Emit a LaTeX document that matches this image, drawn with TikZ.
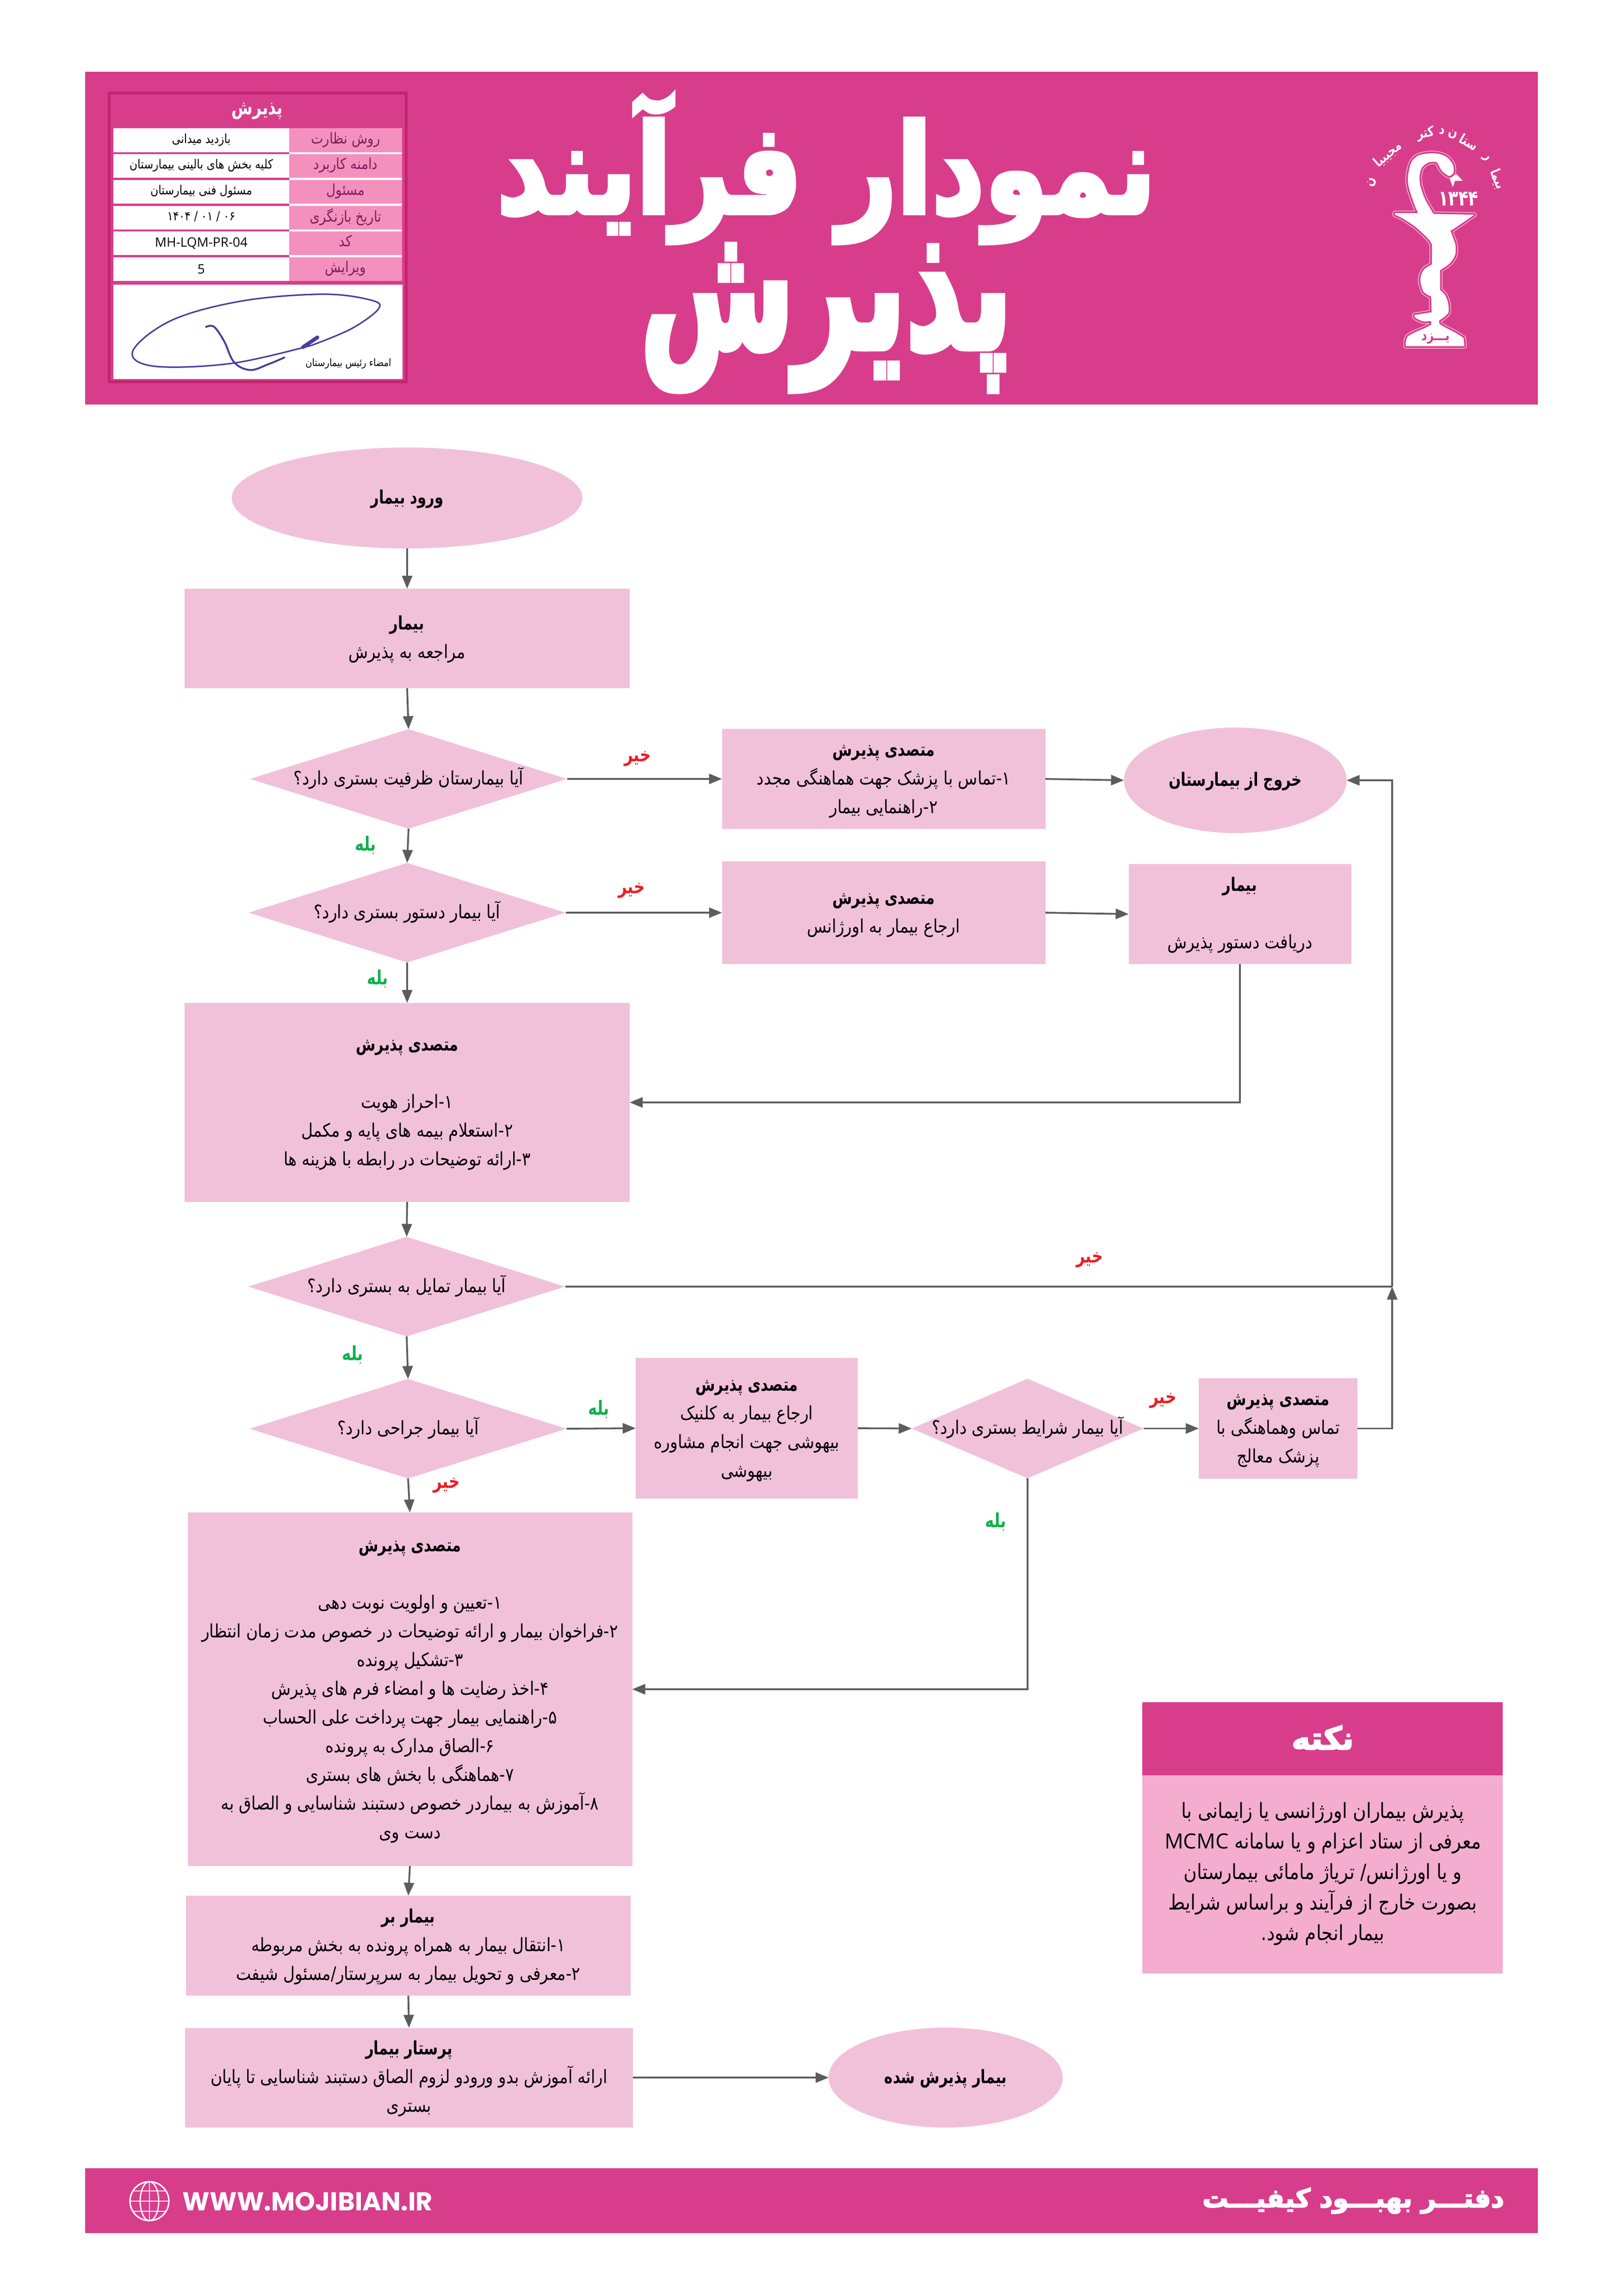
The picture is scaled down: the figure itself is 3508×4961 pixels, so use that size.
\documentclass[tikz,border=0pt]{standalone}
\usepackage{fontspec}
\usepackage{graphicx}
\usetikzlibrary{shapes.geometric,arrows.meta}
\TeXXeTstate=1
\newfontfamily\arabicfont[Script=Arabic,FakeStretch=0.865,BoldFeatures={FakeStretch=0.77}]{DejaVu Sans}
\newfontfamily\titlefa[Script=Arabic,BoldFeatures={FakeBold=4}]{DejaVu Sans}
\newfontfamily\latinfa{Open Sans}
\newfontfamily\webfa{Poppins}
\lineskiplimit=-100pt
\definecolor{bandc}{HTML}{D83D8C}
\definecolor{boxc}{HTML}{F1C1DA}
\definecolor{notec}{HTML}{F4ADCF}
\definecolor{cellc}{HTML}{F490BE}
\definecolor{celltxt}{HTML}{7B1F5C}
\definecolor{tborder}{HTML}{C2246F}
\definecolor{linec}{HTML}{5C5C5C}
\definecolor{noc}{HTML}{ED1C24}
\definecolor{yesc}{HTML}{0DB14B}
\definecolor{sigc}{HTML}{4B3B9E}
\newcommand{\fa}[1]{\strut\beginR #1\endR}
\newcommand{\fb}[1]{\strut\beginR\bfseries #1\endR}
\newcommand{\tfa}[1]{\beginR\bfseries #1\endR}
\newcommand{\qa}[1]{\makebox[0pt][c]{\strut\beginR #1\endR}}
\tikzset{
  bodyt/.style={font=\arabicfont\fontsize{10}{15.5}\selectfont,text=black,align=center,inner sep=0pt,outer sep=0pt},
  boxn/.style={bodyt,rectangle,fill=boxc,minimum width=#1},
  decn/.style={bodyt,diamond,fill=boxc,shape aspect=3.2,minimum width=685*.25pt,minimum height=215*.25pt},
  ovaln/.style={bodyt,ellipse,fill=boxc},
  conn/.style={draw=linec,line width=.95pt,-{Triangle[length=7pt,width=5.5pt]}},
  plainline/.style={draw=linec,line width=.95pt},
  nolab/.style={font=\arabicfont\fontsize{10.6}{12}\selectfont,text=noc,inner sep=0pt},
  yeslab/.style={font=\arabicfont\fontsize{10.6}{12}\selectfont,text=yesc,inner sep=0pt},
  band/.style={rectangle,fill=bandc,inner sep=0pt,outer sep=0pt},
  cellw/.style={rectangle,fill=white,inner sep=0pt,minimum width=95pt,minimum height=12.9pt,font=\arabicfont\fontsize{6.8}{8}\selectfont,text=black},
  cellp/.style={rectangle,fill=cellc,inner sep=0pt,minimum width=61pt,minimum height=12.9pt,font=\arabicfont\fontsize{8.1}{9}\selectfont,text=celltxt},
  whitet/.style={text=white,inner sep=0pt},
  sig/.style={draw=sigc,line width=.8pt,line cap=round},
  logot/.style={text=white,inner sep=0pt,font=\arabicfont\fontsize{7.5}{8}\selectfont}
}
\begin{document}
\begin{tikzpicture}[x=.25pt,y=-.25pt]
\useasboundingbox (0,0) rectangle (3508,4961);
\fill[white] (0,0) rectangle (3508,4961);
% header and footer bands
\node[band,minimum width=3140*.25pt,minimum height=719*.25pt] (hband) at (1754,514.5) {};
\node[band,minimum width=3140*.25pt,minimum height=140*.25pt] (fband) at (1754,4755) {};
% title
\node[whitet,font=\titlefa\fontsize{60}{70}\selectfont] (title1) at (1786,365) {\resizebox*{356pt}{80pt}{\tfa{نمودار فرآیند}}};
\node[whitet,font=\titlefa\fontsize{60}{70}\selectfont] (title2) at (1786,687) {\resizebox*{201pt}{78.5pt}{\tfa{پذیرش}}};
% table
\draw[tborder,fill=bandc,line width=1.4pt] (236,201) rectangle (878,825);
\fill[white] (625,277) rectangle (869,607);
\node[whitet,font=\arabicfont\fontsize{10.8}{12}\selectfont] (tabtitle) at (556,240) {\tfa{پذیرش}};
\node[cellw] (w1) at (435,303) {\fa{بازدید میدانی}};
\node[cellw] (w2) at (435,358.5) {\fa{کلیه بخش های بالینی بیمارستان}};
\node[cellw] (w3) at (435,414.5) {\fa{مسئول فنی بیمارستان}};
\node[cellw] (w4) at (435,470.5) {\fa{۰۶ / ۰۱ / ۱۴۰۴}};
\node[cellw,font=\latinfa\fontsize{7}{8}\selectfont] (w5) at (435,525.5) {MH-LQM-PR-04};
\node[cellw,font=\latinfa\fontsize{7}{8}\selectfont] (w6) at (435,581.5) {5};
\node[cellp] (p1) at (747,303) {\fa{روش نظارت}};
\node[cellp] (p2) at (747,358.5) {\fa{دامنه کاربرد}};
\node[cellp] (p3) at (747,414.5) {\fa{مسئول}};
\node[cellp] (p4) at (747,470.5) {\fa{تاریخ بازنگری}};
\node[cellp] (p5) at (747,525.5) {\fa{کد}};
\node[cellp] (p6) at (747,581.5) {\fa{ویرایش}};
\fill[white] (245,615) rectangle (870,819);
\draw[sig] plot[smooth,tension=.6] coordinates {(675,745.6) (760,710) (818.4,666.8) (800,648) (697,635.7) (523.6,650.2) (371.8,691.7) (287.2,758) (332.7,791.2) (501.9,785) (675.3,745.6)};
\draw[sig,line width=1pt] plot[smooth,tension=.6] coordinates {(445.5,706.2) (462.8,706.2) (484.5,737.3) (506.2,782.9) (540.9,799.5) (579.9,787) (614.6,772.5)};
\draw[sig,line width=2pt] (655,750) -- (686,729);
\node[text=black,inner sep=0pt,font=\arabicfont\fontsize{5.6}{6}\selectfont] (signame) at (753,787) {\fa{امضاء رئیس بیمارستان}};
% logo
\begin{scope}[shift={(2900,230)},x=.08333pt,y=-.08929pt]
\def\logopath{plot[smooth,tension=.5] coordinates {(495,645) (470,590) (435,490) (430,420) (450,340) (490,300) (550,285) (620,285) (680,305) (720,350) (725,400) (695,420) (650,390) (625,350) (610,335) (560,340) (520,370) (505,420) (510,480) (540,560) (595,650)} -- (860,655) -- (720,745) -- plot[smooth,tension=.5] coordinates {(705,750) (720,790) (738,840) (735,900) (700,950) (638,990)} -- (638,1110) -- plot[smooth,tension=.5] coordinates {(638,1110) (670,1140) (690,1190) (690,1250) (632,1295)} -- plot[smooth,tension=.5] coordinates {(632,1295) (640,1320) (730,1365) (790,1400)} -- (795,1450) -- (415,1450) -- plot[smooth,tension=.5] coordinates {(415,1450) (430,1390) (540,1340) (580,1320)} -- (580,1298) -- plot[smooth,tension=.5] coordinates {(580,1298) (530,1300) (480,1280) (470,1262)} -- (583,1245) -- (580,1150) -- plot[smooth,tension=.5] coordinates {(580,1150) (530,1120) (510,1050) (530,990) (585,955)} -- (585,835) -- plot[smooth,tension=.5] coordinates {(585,835) (560,800) (480,730) (400,680) (345,655)} -- (345,645) -- cycle}
\draw[white,line width=2.5pt,line join=round] \logopath;
\draw[bandc,line width=2pt,line join=round] \logopath;
\fill[white] \logopath;
\fill[white] (700,435) -- (745,410) -- (785,450) -- (735,450) -- (720,488) -- cycle;
\node[logot,font=\arabicfont\fontsize{11.5}{12}\selectfont] (year) at (757,560) {\tfa{۱۳۴۴}};
\node[logot,text=bandc,font=\arabicfont\fontsize{7.8}{9}\selectfont] (yazd) at (610,1405) {\tfa{یـــزد}};
\node[logot,rotate=-68] (a1) at (1010,440) {\tfa{بیما}};
\node[logot,rotate=-48] (a2) at (935,315) {\tfa{ر}};
\node[logot,rotate=-30] (a3) at (825,215) {\tfa{ستا}};
\node[logot,rotate=-12] (a4) at (720,170) {\tfa{ن}};
\node[logot,rotate=-3] (a5) at (650,150) {\tfa{د}};
\node[logot,rotate=8] (a6) at (545,165) {\tfa{کتر}};
\node[logot,rotate=40] (a7) at (300,290) {\tfa{مجیبیا}};
\node[logot,rotate=75] (a8) at (195,460) {\tfa{ن}};
\end{scope}
% flow nodes
\node[ovaln,minimum width=758*.25pt,minimum height=218*.25pt] (start) at (880,1076) {\fb{ورود بیمار}};
\node[boxn=962*.25pt,minimum height=215*.25pt] (b1) at (880,1379.5) {\fb{بیمار}\\\fa{مراجعه به پذیرش}};
\node[decn] (d1) at (883,1683) {\qa{آیا بیمارستان ظرفیت بستری دارد؟}};
\node[boxn=699*.25pt,minimum height=216*.25pt] (b2) at (1910,1683) {\fb{متصدی پذیرش}\\\fa{۱-تماس با پزشک جهت هماهنگی مجدد}\\\fa{۲-راهنمایی بیمار}};
\node[ovaln,minimum width=481*.25pt,minimum height=228*.25pt] (exit) at (2670,1686) {\fb{خروج از بیمارستان}};
\node[decn] (d2) at (880,1972) {\qa{آیا بیمار دستور بستری دارد؟}};
\node[boxn=699*.25pt,minimum height=222*.25pt] (b3) at (1910,1972) {\fb{متصدی پذیرش}\\\fa{ارجاع بیمار به اورژانس}};
\node[boxn=481*.25pt,minimum height=216*.25pt] (b4) at (2680,1975) {\fb{بیمار}\\[15.5pt]\fa{دریافت دستور پذیرش}};
\node[boxn=962*.25pt,minimum height=430*.25pt] (b5) at (880,2382) {\fb{متصدی پذیرش}\\[15.5pt]\fa{۱-احراز هویت}\\\fa{۲-استعلام بیمه های پایه و مکمل}\\\fa{۳-ارائه توضیحات در رابطه با هزینه ها}};
\node[decn] (d3) at (879,2780) {\qa{آیا بیمار تمایل به بستری دارد؟}};
\node[decn] (d4) at (882,3087) {\qa{آیا بیمار جراحی دارد؟}};
\node[boxn=480*.25pt,minimum height=304*.25pt] (b6) at (1614,3086) {\fb{متصدی پذیرش}\\\fa{ارجاع بیمار به کلنیک}\\\fa{بیهوشی جهت انجام مشاوره}\\\fa{بیهوشی}};
\node[decn,minimum width=501*.25pt] (d5) at (2221,3086.5) {\qa{آیا بیمار شرایط بستری دارد؟}};
\node[boxn=343*.25pt,minimum height=217*.25pt] (b7) at (2762.5,3086.5) {\fb{متصدی پذیرش}\\\fa{تماس وهماهنگی با}\\\fa{پزشک معالج}};
\node[boxn=961*.25pt,minimum height=764*.25pt] (b8) at (886,3650) {\fb{متصدی پذیرش}\\[15.5pt]\fa{۱-تعیین و اولویت نوبت دهی}\\\fa{۲-فراخوان بیمار و ارائه توضیحات در خصوص مدت زمان انتظار}\\\fa{۳-تشکیل پرونده}\\\fa{۴-اخذ رضایت ها و امضاء فرم های پذیرش}\\\fa{۵-راهنمایی بیمار جهت پرداخت علی الحساب}\\\fa{۶-الصاق مدارک به پرونده}\\\fa{۷-هماهنگی با بخش های بستری}\\\fa{۸-آموزش به بیماردر خصوص دستبند شناسایی و الصاق به}\\\fa{دست وی}};
\node[boxn=961*.25pt,minimum height=216*.25pt] (b9) at (882.5,4204) {\fb{بیمار بر}\\\fa{۱-انتقال بیمار به همراه پرونده به بخش مربوطه}\\\fa{۲-معرفی و تحویل بیمار به سرپرستار/مسئول شیفت}};
\node[boxn=968*.25pt,minimum height=215*.25pt] (b10) at (884,4489) {\fb{پرستار بیمار}\\\fa{ارائه آموزش بدو ورودو لزوم الصاق دستبند شناسایی تا پایان}\\\fa{بستری}};
\node[ovaln,minimum width=506*.25pt,minimum height=216*.25pt] (done) at (2044,4489) {\fb{بیمار پذیرش شده}};
% connectors
\coordinate (rail) at (3009,2780);
\draw[conn] (start.south) -- (b1.north);
\draw[conn] (b1.south) -- (d1.north);
\draw[conn] (d1.east) -- (b2.west);
\draw[conn] (b2.east) -- (exit.west);
\draw[conn] (d1.south) -- (d2.north);
\draw[conn] (d2.east) -- (b3.west);
\draw[conn] (b3.east) -- (b4.west);
\draw[conn] (d2.south) -- (b5.north);
\draw[conn] (b4.south) |- (b5.east);
\draw[conn] (b5.south) -- (d3.north);
\draw[plainline] (d3.east) -- (rail);
\draw[conn] (rail) |- (exit.east);
\draw[conn] (d3.south) -- (d4.north);
\draw[conn] (d4.east) -- (b6.west);
\draw[conn] (b6.east) -- (d5.west);
\draw[conn] (d5.east) -- (b7.west);
\draw[conn] (b7.east) -| (rail);
\draw[conn] (d4.south) -- (b8.north);
\draw[conn] (d5.south) |- (b8.east);
\draw[conn] (b8.south) -- (b9.north);
\draw[conn] (b9.south) -- (b10.north);
\draw[conn] (b10.east) -- (done.west);
% branch labels
\node[nolab] (l1) at (1378,1639) {\tfa{خیر}};
\node[yeslab] (l2) at (790,1826) {\tfa{بله}};
\node[nolab] (l3) at (1365,1924) {\tfa{خیر}};
\node[yeslab] (l4) at (816,2115) {\tfa{بله}};
\node[nolab] (l5) at (2355,2722) {\tfa{خیر}};
\node[yeslab] (l6) at (762,2927) {\tfa{بله}};
\node[yeslab] (l7) at (1294,3045) {\tfa{بله}};
\node[nolab] (l8) at (2514,3026) {\tfa{خیر}};
\node[nolab] (l9) at (965,3209) {\tfa{خیر}};
\node[yeslab] (l10) at (2152,3288) {\tfa{بله}};
% note
\node[band,minimum width=779*.25pt,minimum height=158*.25pt] (nhead) at (2858.5,3757) {};
\node[rectangle,fill=notec,inner sep=0pt,outer sep=0pt,minimum width=779*.25pt,minimum height=428*.25pt] (nbody) at (2858.5,4050) {};
\node[whitet,font=\titlefa\fontsize{17}{20}\selectfont] (ntitle) at (2859,3754) {\tfa{نکته}};
\node[bodyt,font=\arabicfont\fontsize{11.3}{16.5}\selectfont,text=black] (ntext) at (2859,4047) {\fa{پذیرش بیماران اورژانسی یا زایمانی با}\\\fa{معرفی از ستاد اعزام و یا سامانه \beginL{\latinfa MCMC}\endL}\\\fa{و یا اورژانس/ تریاژ مامائی بیمارستان}\\\fa{بصورت خارج از فرآیند و براساس شرایط}\\\fa{بیمار انجام شود.}};
% footer
\draw[white,line width=.8pt] (323,4756) circle (42);
\draw[white,line width=.7pt] (323,4756) ellipse (20 and 42);
\draw[white,line width=.7pt] (323,4714) -- (323,4798);
\draw[white,line width=.7pt] (281,4756) -- (365,4756);
\draw[white,line width=.7pt] (288,4734) -- (358,4734);
\draw[white,line width=.7pt] (288,4778) -- (358,4778);
\node[whitet,font=\webfa\bfseries\fontsize{14}{16}\selectfont] (web) at (665,4757) {\resizebox{135pt}{!}{WWW.MOJIBIAN.IR}};
\node[whitet,font=\titlefa\fontsize{15}{18}\selectfont] (office) at (2925,4755) {\resizebox{163pt}{!}{\tfa{دفتـــر بهبـــود کیفیـــت}}};
\end{tikzpicture}
\end{document}
